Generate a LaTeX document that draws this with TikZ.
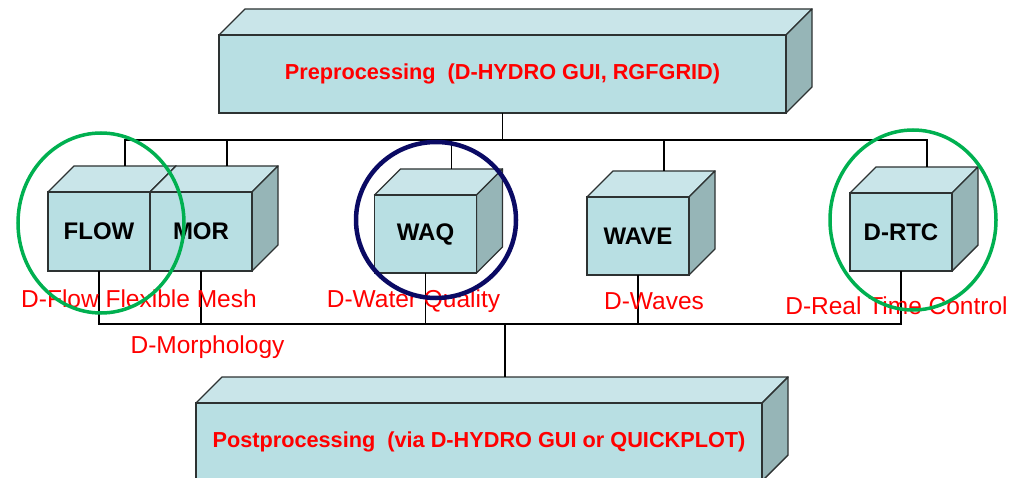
\documentclass[tikz,border=0pt]{standalone}
\usepackage{fontspec}
\setmainfont{Liberation Sans}
\usetikzlibrary{positioning,backgrounds,shapes.geometric}
\definecolor{frontcol}{RGB}{184,223,227}
\definecolor{topcol}{RGB}{201,229,233}
\definecolor{sidecol}{RGB}{150,181,183}
\definecolor{edgecol}{RGB}{45,50,50}
\definecolor{ringgreen}{RGB}{0,176,80}
\definecolor{ringnavy}{RGB}{10,10,100}
\begin{document}
\begin{tikzpicture}[
    x=1pt, y=-1pt,
    cube/.style={
        draw=edgecol,
        line width=1.4pt,
        fill=frontcol,
        inner sep=0pt,
        outer sep=0pt,
        minimum width=102pt,
        minimum height=79pt,
        font=\bfseries\fontsize{24}{28}\selectfont
    },
    slab/.style={
        cube,
        minimum width=567pt,
        minimum height=78pt,
        text=red,
        font=\bfseries\fontsize{21.7}{26}\selectfont
    },
    face/.style={
        draw=edgecol,
        line width=1.4pt,
        line join=round
    },
    wire/.style={
        line width=1.2pt
    },
    lbl/.style={
        text=red,
        inner sep=0pt,
        anchor=base,
        font=\fontsize{24.5}{29}\selectfont
    },
    ring/.style={
        ellipse,
        inner sep=0pt
    }
]
    \useasboundingbox (0,0) rectangle (1012,478);

    \node[slab] (pre) at (502.5,74)
        {Preprocessing\ \ (D-HYDRO GUI, RGFGRID)};

    \node[cube] (flow) at (99,231.5) {FLOW};
    \node[cube, right=0pt of flow] (mor) {MOR};
    \node[cube, minimum height=78pt] (waq) at (425.5,234) {WAQ};
    \node[cube, minimum height=78pt] (wave) at (638,236) {WAVE};
    \node[cube, minimum height=78pt] (rtc) at (901,232) {D-RTC};

    \node[slab, minimum width=566pt] (post) at (479,442)
        {Postprocessing\ \ (via D-HYDRO GUI or QUICKPLOT)};

    % top and side faces behind the front faces
    \begin{scope}[on background layer]
        \foreach \n in {pre,flow,mor,waq,wave,rtc,post} {
            \filldraw[face, fill=topcol]
                (\n.north west) -- ++(26pt,26pt) --
                ([shift={(26pt,26pt)}]\n.north east) --
                (\n.north east) -- cycle;
            \filldraw[face, fill=sidecol]
                (\n.north east) -- ++(26pt,26pt) --
                ([shift={(26pt,26pt)}]\n.south east) --
                (\n.south east) -- cycle;
            \coordinate (\n-back) at ([shift={(26pt,26pt)}]\n.north);
        }
    \end{scope}

    % bus lines
    \coordinate (topbus) at (502.5,140);
    \coordinate (botbus) at (505,324);

    \draw[wire]
        (pre.south) -- (topbus);
    \draw[wire]
        (flow-back) |- (topbus) -| (rtc-back);
    \foreach \n in {mor,waq,wave}
        \draw[wire] (\n-back) -- (\n-back |- topbus);

    \draw[wire]
        (flow.south) |- (botbus) -| (rtc.south);
    \foreach \n in {mor,waq,wave}
        \draw[wire] (\n.south) -- (\n.south |- botbus);
    \draw[wire]
        (botbus) -- (post-back);

    \node[lbl] (flowlbl) at (139,308) {D-Flow Flexible Mesh};
    \node[lbl] (morlbl) at (207.5,353) {D-Morphology};
    \node[lbl] (waqlbl) at (413.5,308) {D-Water Quality};
    \node[lbl] (wavelbl) at (654,309) {D-Waves};
    \node[lbl] (rtclbl) at (896.5,315) {D-Real Time Control};

    \node[ring, draw=ringgreen, line width=3.5pt,
        minimum width=166pt, minimum height=180pt] (flowring) at (101,223) {};
    \node[ring, draw=ringnavy, line width=4.5pt,
        minimum width=160pt, minimum height=156pt] (waqring) at (436,220) {};
    \node[ring, draw=ringgreen, line width=3.5pt,
        minimum width=166pt, minimum height=180pt] (rtcring) at (913,220) {};
\end{tikzpicture}
\end{document}
